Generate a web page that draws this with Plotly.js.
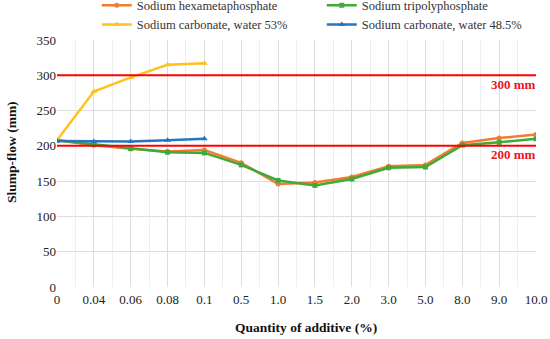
<!DOCTYPE html>
<html><head><meta charset="utf-8">
<script src="https://cdn.plot.ly/plotly-3.0.1.min.js"></script>
<style>html,body{margin:0;padding:0;background:#fff}#chart{width:550px;height:339px}
#chart .legend text, #chart text.legendtext{font-family:"Liberation Serif","Times New Roman",serif !important}</style>
</head><body><div id="chart"></div>
<script>
const categories = ["0","0.04","0.06","0.08","0.1","0.5","1.0","1.5","2.0","3.0","5.0","8.0","9.0","10.0"];
const hexameta = [208,201,196,192,194,176,146,148,156,171,173,204,211,216];
const tripoly  = [208,202,196,191,190,173,151,144,153,169,170,201,205,210];
const carb53   = [208,277,297,315,317];
const carb485  = [207,206,206,208,210];
const refLevels = [300,200];
const refLabels = ["300 mm","200 mm"];
const xTitle = "Quantity of additive (%)";
const yTitle = "Slump-flow (mm)";

const idx = categories.map((c,i)=>i);
const FAM = "Liberation Serif";
const font = {family:FAM, size:12, color:"#222"};

const traces = [
 {name:"Sodium hexametaphosphate", x:idx.slice(0,hexameta.length), y:hexameta, mode:"lines+markers",
  line:{color:"#F47B30",width:2.5}, marker:{symbol:"circle",size:5,color:"#F47B30"}},
 {name:"Sodium tripolyphosphate", x:idx.slice(0,tripoly.length), y:tripoly, mode:"lines+markers",
  line:{color:"#3DAA3A",width:2.5}, marker:{symbol:"square",size:5,color:"#3DAA3A"}},
 {name:"Sodium carbonate, water 53%", x:idx.slice(0,carb53.length), y:carb53, mode:"lines+markers",
  line:{color:"#FFC21C",width:2.5}, marker:{symbol:"triangle-up",size:6,color:"#FFC21C"}},
 {name:"Sodium carbonate, water 48.5%", x:idx.slice(0,carb485.length), y:carb485, mode:"lines+markers",
  line:{color:"#2576C0",width:2.5}, marker:{symbol:"triangle-up",size:6,color:"#2576C0"}}
];

const shapes = refLevels.map(v=>({type:"line",xref:"paper",x0:0,x1:1,yref:"y",y0:v,y1:v,
  line:{color:"#FF0000",width:2},layer:"above"}));
const annotations = refLevels.map((v,i)=>({xref:"paper",x:1.005,xanchor:"right",yref:"y",y:v,yshift:-9,
  text:"<b>"+refLabels[i]+"</b>",showarrow:false,font:{family:FAM,size:13,color:"#E8141B"}}));
annotations.push({xref:"paper",yref:"paper",x:(306-57)/479,y:-(327-287)/247,xanchor:"center",yanchor:"middle",
  text:"<b>"+xTitle+"</b>",showarrow:false,font:{family:FAM,size:13.5,color:"#111"}});
annotations.push({xref:"paper",yref:"paper",x:-(57-11)/479,y:(287-152)/247,xanchor:"center",yanchor:"middle",
  textangle:-90,text:"<b>"+yTitle+"</b>",showarrow:false,font:{family:FAM,size:13.5,color:"#111"}});

const layout = {
  width:550,height:339,margin:{l:57,r:14,t:40,b:52,autoexpand:false},
  paper_bgcolor:"#fff",plot_bgcolor:"#fff",font:font,
  showlegend:true,
  legend:{orientation:"h",x:0.083,xanchor:"left",y:1.2,yanchor:"top",
    entrywidth:180,entrywidthmode:"pixels",font:{family:"Times New Roman",size:12.5,color:"#333"}},
  xaxis:{type:"linear",range:[0,categories.length-1],tickvals:idx,ticktext:categories,
    showgrid:true,gridcolor:"#DDDDDD",gridwidth:1,zeroline:false,showline:false,ticks:"",
    minor:{dtick:0.5,tick0:0,showgrid:true,gridcolor:"#EEEEEE",gridwidth:1},
    ticklabelstandoff:3,
    tickfont:{family:FAM,size:13,color:"#222"}},
  yaxis:{range:[0,350],dtick:50,showgrid:true,gridcolor:"#DDDDDD",zeroline:false,showline:false,ticks:"",
    tickfont:{family:FAM,size:13,color:"#222"}},
  shapes:shapes,annotations:annotations
};
Plotly.newPlot("chart",traces,layout,{displayModeBar:false,staticPlot:true});
</script></body></html>
